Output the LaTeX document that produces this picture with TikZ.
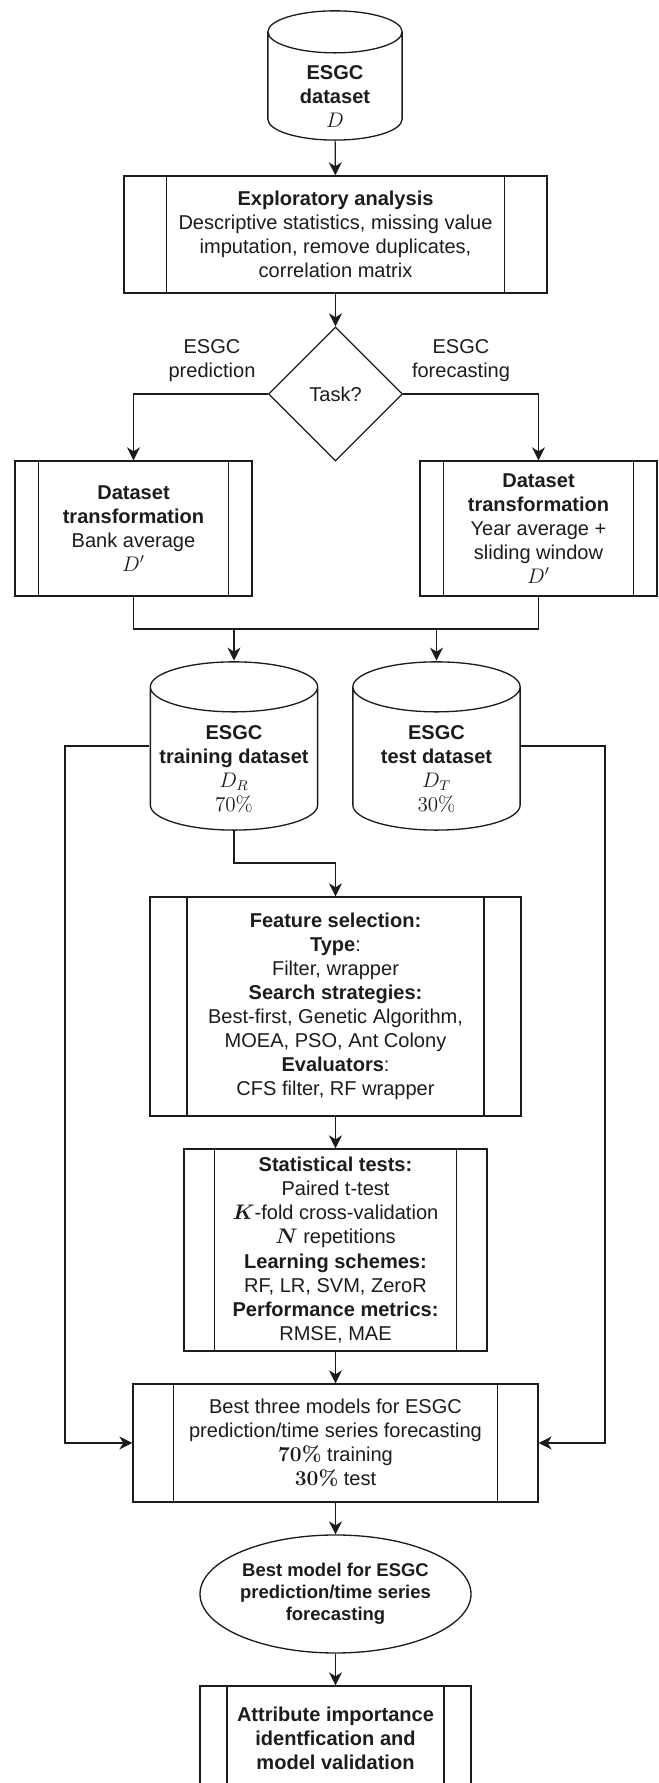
\documentclass[tikz,border=0pt]{standalone}
\usepackage[no-math]{fontspec}
\setmainfont{Liberation Sans}
\usetikzlibrary{arrows.meta,positioning,calc,shapes.geometric}
\definecolor{EsgcInk}{RGB}{28,28,28}
\newcommand{\esgcmath}[1]{{\fontsize{12pt}{13.7pt}\selectfont$#1$}}
\tikzset{
  esgc/cap/.store in=\esgccap,
  esgc/cap=0.5cm,
  esgc/proc/.style={
    rectangle,
    draw=EsgcInk,
    line width=0.75pt,
    fill=white,
    align=center,
    text=EsgcInk,
    inner sep=2pt,
    font=\fontsize{11.4}{13.7}\selectfont,
    path picture={
      \draw[EsgcInk,line width=0.75pt]
        ($(path picture bounding box.north west)!0.1!(path picture bounding box.north east)$) --
        ($(path picture bounding box.south west)!0.1!(path picture bounding box.south east)$)
        ($(path picture bounding box.north east)!0.1!(path picture bounding box.north west)$) --
        ($(path picture bounding box.south east)!0.1!(path picture bounding box.south west)$);
    }
  },
  esgc/db/.style={
    rectangle,
    fill=white,
    align=center,
    text=EsgcInk,
    inner sep=0pt,
    font=\fontsize{11.4}{13.7}\selectfont\bfseries,
    path picture={
      \draw[EsgcInk,line width=0.75pt]
        let \p1=(path picture bounding box.south west), \p2=(path picture bounding box.north east),
            \n1={(\x2-\x1)/2-0.5pt} in
        (\x1+0.5pt,\y2-0.5pt-\esgccap) -- (\x1+0.5pt,\y1+0.5pt+\esgccap)
        arc[start angle=180,end angle=360,x radius=\n1,y radius=\esgccap]
        -- (\x2-0.5pt,\y2-0.5pt-\esgccap)
        arc[start angle=0,end angle=360,x radius=\n1,y radius=\esgccap];
    }
  },
  esgc/decision/.style={
    diamond,
    aspect=1,
    draw=EsgcInk,
    line width=0.75pt,
    fill=white,
    text=EsgcInk,
    inner sep=0pt,
    minimum width=2.68cm,
    minimum height=2.68cm,
    font=\fontsize{11.4}{13.7}\selectfont
  },
  esgc/terminal/.style={
    ellipse,
    draw=EsgcInk,
    line width=0.75pt,
    fill=white,
    align=center,
    text=EsgcInk,
    inner xsep=-0.3cm,
    inner ysep=0pt,
    font=\fontsize{10.5}{12.6}\selectfont\bfseries
  },
  esgc/arrow/.style={-{Stealth[length=0.26cm,width=0.26cm,inset=0.08cm]}, line width=0.75pt, draw=EsgcInk},
  esgc/line/.style={line width=0.75pt, draw=EsgcInk},
  esgc/branch/.style={font=\fontsize{11.4}{13.7}\selectfont, text=EsgcInk, align=center}
}

\begin{document}
\begin{tikzpicture}[x=1cm,y=1cm]
  \useasboundingbox (0,0) rectangle (13.16,35.66);
  \clip (0,0) rectangle (13.16,35.66);
  \node[esgc/db,esgc/cap=0.42cm,minimum width=2.72cm,minimum height=2.62cm] (topDB) at (6.70,34.15)
    {\rule{0pt}{31.5pt}ESGC\\dataset\\\esgcmath{D}};
  \node[esgc/proc,minimum width=8.46cm,minimum height=2.34cm] (explore) at (6.71,30.97)
    {\textbf{Exploratory analysis}\\Descriptive statistics, missing value\\imputation, remove duplicates,\\correlation matrix};
  \node[esgc/decision] (task) at (6.71,27.78) {Task?};
  \node[esgc/branch] (predLabel) at (4.24,28.45) {ESGC\\prediction};
  \node[esgc/branch] (foreLabel) at (9.22,28.45) {ESGC\\forecasting};
  \node[esgc/proc,minimum width=4.74cm,minimum height=2.70cm] (predBox) at (2.67,25.09)
    {\textbf{Dataset}\\\textbf{transformation}\\Bank average\\\esgcmath{D'}};
  \node[esgc/proc,minimum width=4.74cm,minimum height=2.70cm] (foreBox) at (10.77,25.09)
    {\textbf{Dataset}\\\textbf{transformation}\\Year average +\\sliding window\\\esgcmath{D'}};
  \coordinate (merge) at (6.71,23.08);
  \node[esgc/db,esgc/cap=0.5cm,minimum width=3.38cm,minimum height=3.40cm] (trainDB) at (4.68,20.74)
    {\rule{0pt}{34.4pt}ESGC\\training dataset\\\esgcmath{D_R}\\\esgcmath{70\%}};
  \node[esgc/db,esgc/cap=0.5cm,minimum width=3.38cm,minimum height=3.40cm] (testDB) at (8.73,20.74)
    {\rule{0pt}{34.4pt}ESGC\\test dataset\\\esgcmath{D_T}\\\esgcmath{30\%}};
  \coordinate (railL) at (1.30,0);
  \coordinate (railR) at (12.10,0);
  \coordinate (trainBend) at (6.71,18.40);
  \node[esgc/proc,minimum width=7.42cm,minimum height=4.38cm] (featBox) at (6.71,15.53)
    {\textbf{Feature selection:}\\\textbf{Type}:\\Filter, wrapper\\\textbf{Search strategies:}\\Best-first, Genetic Algorithm,\\MOEA, PSO, Ant Colony\\\textbf{Evaluators}:\\CFS filter, RF wrapper};
  \node[esgc/proc,minimum width=6.06cm,minimum height=4.04cm] (statBox) at (6.71,10.66)
    {\textbf{Statistical tests:}\\Paired t-test\\{\boldmath\esgcmath{K}}-fold cross-validation\\{\boldmath\esgcmath{N}} repetitions\\\textbf{Learning schemes:}\\RF, LR, SVM, ZeroR\\\textbf{Performance metrics:}\\RMSE, MAE};
  \node[esgc/proc,minimum width=8.10cm,minimum height=2.36cm] (bestBox) at (6.71,6.80)
    {Best three models for ESGC\\prediction/time series forecasting\\{\boldmath\esgcmath{70\%}} training\\{\boldmath\esgcmath{30\%}} test};
  \node[esgc/terminal,minimum width=5.42cm,minimum height=2.36cm] (bestModel) at (6.71,3.78)
    {Best model for ESGC\\prediction/time series\\forecasting};
  \node[esgc/proc,minimum width=5.42cm,minimum height=2.08cm] (attrBox) at (6.71,0.90)
    {\textbf{Attribute importance}\\\textbf{identfication and}\\\textbf{model validation}};
  \draw[esgc/arrow] (topDB) -- (explore);
  \draw[esgc/arrow] (explore) -- (task);
  \draw[esgc/arrow] (task.west) -| (predBox.north);
  \draw[esgc/arrow] (task.east) -| (foreBox.north);
  \draw[esgc/line] (predBox.south) |- (merge) -| (foreBox.south);
  \draw[esgc/arrow] (merge -| trainDB.north) -- (trainDB.north);
  \draw[esgc/arrow] (merge -| testDB.north) -- (testDB.north);
  \draw[esgc/arrow] (trainDB.west) -- (trainDB.west -| railL) |- (bestBox.west);
  \draw[esgc/arrow] (testDB.east) -- (testDB.east -| railR) |- (bestBox.east);
  \draw[esgc/arrow] (trainDB.south) |- (trainBend) -- (featBox.north);
  \draw[esgc/arrow] (featBox) -- (statBox);
  \draw[esgc/arrow] (statBox) -- (bestBox);
  \draw[esgc/arrow] (bestBox) -- (bestModel);
  \draw[esgc/arrow] (bestModel) -- (attrBox);
\end{tikzpicture}
\end{document}
